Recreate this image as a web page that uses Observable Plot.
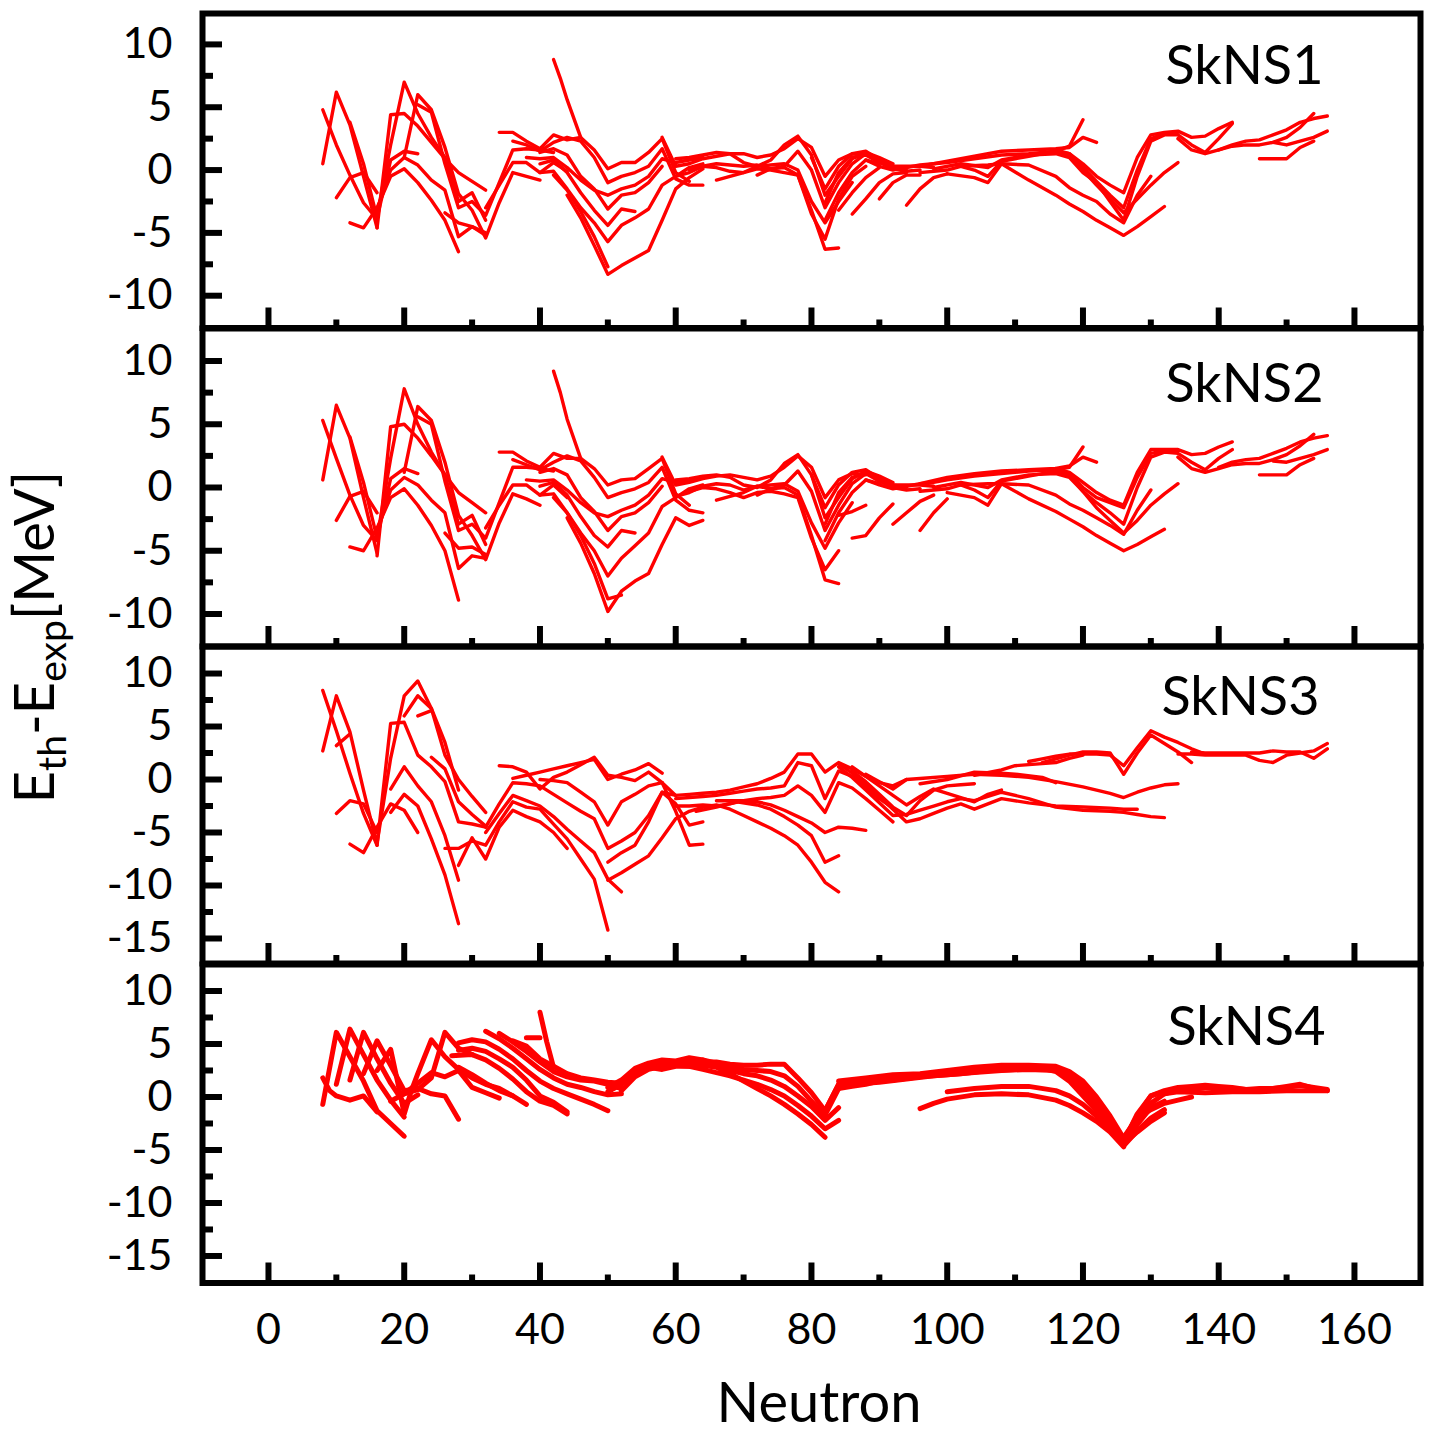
<!DOCTYPE html>
<html><head><meta charset="utf-8">
<script src="https://cdn.jsdelivr.net/npm/d3@7"></script>
<script src="https://cdn.jsdelivr.net/npm/@observablehq/plot@0.6"></script>
<style>
html,body{margin:0;padding:0;background:#fff;}
#chart{position:relative;width:1434px;height:1434px;background:#fff;font-family:Lato,sans-serif;overflow:hidden;color:#000}
#chart svg{position:absolute;left:0}
.ytitle{position:absolute;left:33px;top:637px;transform:translate(-50%,-50%) rotate(-90deg);font-size:56px;line-height:1;white-space:nowrap}
.ytitle span{font-size:0.7em;position:relative;top:0.3em}
.xtitle{position:absolute;left:819px;top:1373px;transform:translateX(-50%);font-size:56px;line-height:1;white-space:nowrap}
</style></head>
<body><div id="chart"></div>
<script>
// ---- tick values ----
const neutronTicks = [0,20,40,60,80,100,120,140,160];
const neutronMinor = [10,30,50,70,90,110,130,150];
const yMajorA = [-10,-5,0,5,10];
const yMinorA = [-7.5,-2.5,2.5,7.5];
const yMajorB = [-15,-10,-5,0,5,10];
const yMinorB = [-12.5,-7.5,-2.5,2.5,7.5];
const panelNames = ["SkNS1","SkNS2","SkNS3","SkNS4"];

// ---- isotopic chains: [N, Eth-Eexp] ----
const skns1 = [
 [[8,0.5],[10,6.2],[12,3.6],[14,-0.5],[16,-4.6]],
 [[8,4.8],[10,2.0],[12,-0.4],[14,-2.6],[16,-3.9]],
 [[10,-2.2],[12,-0.6],[14,-0.2],[16,-1.8]],
 [[12,-4.2],[14,-4.6],[16,-3.0],[18,-0.5],[20,0.1],[22,-1.0],[24,-2.4],[26,-4.0],[28,-6.5]],
 [[12,3.8],[14,0.5],[16,-3.8],[18,0.8],[20,1.5],[22,1.3]],
 [[16,-4.6],[18,4.4],[20,4.5],[22,3.5],[24,2.2],[26,0.9],[28,-0.2],[30,-0.9],[32,-1.6]],
 [[16,-3.6],[18,2.0],[20,7.0],[22,4.5],[24,2.6],[26,1.0],[28,-2.5],[30,-1.8],[32,-4.0]],
 [[20,1.0],[22,6.0],[24,4.8],[26,1.8],[28,-1.9],[30,-3.2],[32,-5.4],[34,-2.6],[36,-0.2],[38,-0.5],[40,-0.8]],
 [[16,-3.2],[18,0],[20,1.0],[22,0.4],[24,-0.8],[26,-1.6],[28,-5.3],[30,-4.5],[32,-5.0]],
 [[22,5.2],[24,4.6],[26,0.5],[28,-3.0],[30,-2.5],[32,-3.6],[34,-1.0],[36,1.6],[38,1.7],[40,1.6],[42,1.4]],
 [[26,-3.4],[28,-4.2],[30,-4.5],[32,-5.2]],
 [[32,-3.0],[34,-1.2],[36,0.6],[38,0.6],[40,-0.2],[42,0.6],[44,-0.1]],
 [[34,3.0],[36,3.0],[38,2.3],[40,1.7],[42,2.8],[44,2.4],[46,2.6],[48,1.6],[50,0.1],[52,0.6],[54,0.6],[56,1.4],[58,2.5],[60,-0.2],[62,-0.9]],
 [[36,2.3],[38,2.0],[40,1.5],[42,2.2],[44,2.6],[46,2.3],[48,1.0],[50,-1.0],[52,-0.5],[54,-0.2],[56,0.3],[58,1.7],[60,-0.7],[62,-1.2],[64,-1.2]],
 [[38,1.0],[40,0.9],[42,1.0],[44,0.2],[46,-0.8],[48,-1.6],[50,-2.0],[52,-1.5],[54,-1.2],[56,-0.5],[58,0.9],[60,0.6],[62,0.8],[64,1.0]],
 [[40,1.4],[42,1.7],[44,1.2],[46,-0.5],[48,-1.5],[50,-3.1],[52,-2.0],[54,-1.8],[56,-1.0],[58,0.3]],
 [[40,0.5],[42,0.8],[44,-0.2],[46,-1.8],[48,-3.2],[50,-4.4],[52,-3.1],[54,-3.3]],
 [[40,-0.2],[42,-0.1],[44,-1.5],[46,-3.0],[48,-4.2],[50,-5.7],[52,-4.4],[54,-3.8],[56,-3.1],[58,-1.2],[60,-0.5],[62,0.2],[64,0.5]],
 [[42,-0.4],[44,-1.6],[46,-3.3],[48,-5.3],[50,-7.7]],
 [[42,8.8],[43,7.3],[44,5.6],[46,2.6]],
 [[44,-2.0],[46,-3.8],[48,-6.0],[50,-8.3],[52,-7.6],[54,-7.0],[56,-6.4],[58,-4.0],[60,-1.5],[62,-0.6],[64,0.1]],
 [[58,2.6],[60,0.3],[62,0.5],[64,0.9],[66,1.1],[68,1.3],[70,1.3],[72,1.0],[74,1.2],[76,1.7],[78,2.5],[80,1.8],[82,-0.5],[84,0.8],[86,1.3],[88,1.2]],
 [[60,0.9],[62,1.0],[64,1.2],[66,1.4],[68,1.3],[70,0.6],[72,0.3],[74,0.8],[76,2.0],[78,2.7],[80,1.2],[82,-2.0],[84,-0.5],[86,0.9],[88,1.4],[90,1.0],[92,0.5]],
 [[60,-0.5],[62,-0.2],[64,0.3],[66,0.5],[68,0.4],[70,0.3],[72,0.4],[74,0.1],[76,0.3],[78,1.5],[80,0],[82,-3.0],[84,-1.0],[86,0.5],[88,1.3],[90,0.9],[92,0.3],[94,0.1]],
 [[62,0],[64,0.3],[66,0.2],[68,-0.1],[70,-0.2],[72,0.1],[74,0],[76,-0.2],[78,-0.4],[80,-3.5],[82,-5.5],[84,-2.3],[86,-0.5],[88,0.3]],
 [[66,-0.8],[68,-0.5],[70,-0.2],[72,0.3],[74,0.4],[76,0.5],[78,0],[80,-2.5],[82,-4.2],[84,-2.5],[86,-1.0]],
 [[72,-0.4],[74,0.1],[76,0.2],[78,-0.4],[80,-3.2],[82,-6.3],[84,-6.2]],
 [[80,1.0],[82,-1.5],[84,0.3],[86,1.3],[88,1.5],[90,0.8],[92,0.3],[94,0.3],[96,0.3],[98,0.2]],
 [[82,-2.6],[84,-0.2],[86,1.0],[88,1.2],[90,0.6],[92,0.1],[94,-0.1],[96,0]],
 [[82,-4.0],[84,-1.8],[86,-0.2],[88,0.8],[90,0.5]],
 [[84,-3.2],[86,-1.8],[88,-0.6],[90,0.2]],
 [[86,-3.5],[88,-2.3],[90,-1.0],[92,-0.3],[94,-0.2]],
 [[90,-2.3],[92,-1.0],[94,-0.4],[96,-0.4]],
 [[94,-2.8],[96,-1.5],[98,-0.6],[100,-0.3]],
 [[88,0.8],[90,0.3],[92,0],[94,0.2],[96,0.4],[98,0.5],[100,0.6],[104,0.9],[108,1.2],[112,1.3],[116,1.5],[118,1.9],[120,4.0]],
 [[96,0.3],[100,0.7],[104,1.1],[108,1.5],[112,1.6],[116,1.7],[118,1.8],[120,2.6],[122,2.2]],
 [[96,-0.2],[100,0],[102,0.3],[104,0],[106,-0.5],[108,0.7],[112,1.1],[116,1.5],[118,1.3],[120,0.2],[122,-0.9],[124,-2.0],[126,-3.0],[128,0],[130,2.5],[132,2.9],[134,3.0]],
 [[98,0.1],[102,0.5],[106,0.2],[108,0.8],[112,1.2],[116,1.3],[118,1.0],[120,-0.2],[122,-1.0],[124,-2.5],[126,-4.0],[128,-0.5],[130,2.3],[132,2.8],[134,2.8],[136,2.0],[138,1.4],[140,2.5],[142,3.7]],
 [[100,-0.3],[104,-0.6],[106,-1.0],[108,0.5],[112,0.4],[116,-0.5],[118,-1.4],[120,-2.0],[122,-2.5],[124,-3.5],[126,-4.2],[128,-2.0],[130,-0.5]],
 [[102,0.3],[106,0.4],[108,0.5],[112,-0.8],[116,-2.0],[118,-2.7],[120,-3.3],[122,-4.0],[124,-4.6],[126,-5.2],[128,-4.5],[130,-3.7],[132,-2.9]],
 [[116,1.6],[118,1.3],[120,0.5],[122,-0.5],[124,-1.2],[126,-1.8],[128,1.0],[130,2.8],[132,3.0],[134,3.1],[136,2.6],[138,2.7],[140,3.3],[142,3.8]],
 [[116,1.4],[118,1.2],[120,0],[122,-1.2],[124,-2.3],[126,-3.4],[128,-2.3],[130,-1.2],[132,-0.2],[134,0.6]],
 [[134,2.5],[136,1.6],[138,1.3],[140,1.6],[142,1.9],[144,2.0],[146,2.0],[148,2.2],[150,2.6],[152,3.4],[154,4.5]],
 [[140,1.6],[142,2.0],[144,2.3],[146,2.4],[148,2.8],[150,3.2],[152,3.8],[154,4.1],[156,4.3]],
 [[146,0.9],[148,0.9],[150,0.9],[152,1.8],[154,2.3]],
 [[148,2.2],[150,2.0],[152,2.3],[154,2.6],[156,3.1]]
];

const skns2 = [
 [[8,0.6],[10,6.5],[12,3.9],[14,-0.8],[16,-5.2]],
 [[8,5.3],[10,2.3],[12,-0.6],[14,-3.0],[16,-4.2]],
 [[10,-2.6],[12,-0.7],[14,-0.3],[16,-2.0]],
 [[12,-4.7],[14,-5.0],[16,-3.2],[18,-0.8],[20,-0.1],[22,-1.4],[24,-3.0],[26,-5.0],[28,-8.9]],
 [[12,4.0],[14,0.4],[16,-4.0],[18,0.7],[20,1.5],[22,1.1]],
 [[16,-5.4],[18,4.8],[20,5.0],[22,3.9],[24,2.5],[26,1.0],[28,-0.4],[30,-1.2],[32,-2.0]],
 [[16,-4.0],[18,2.3],[20,7.8],[22,5.0],[24,2.8],[26,1.0],[28,-2.9],[30,-2.2],[32,-4.5]],
 [[20,1.2],[22,6.4],[24,5.3],[26,2.0],[28,-2.2],[30,-3.8],[32,-5.7],[34,-2.8],[36,-0.5],[38,-0.9],[40,-1.4]],
 [[16,-3.5],[18,-0.2],[20,0.8],[22,0.2],[24,-1.0],[26,-2.0],[28,-6.4],[30,-5.4],[32,-5.6]],
 [[22,5.6],[24,5.0],[26,0.5],[28,-3.4],[30,-2.9],[32,-4.0],[34,-1.2],[36,1.6],[38,1.6],[40,1.5],[42,1.3]],
 [[26,-3.6],[28,-4.8],[30,-4.7],[32,-5.3]],
 [[32,-3.2],[34,-1.4],[36,0.2],[38,0.2],[40,-0.6],[42,0.2],[44,-0.8]],
 [[34,2.8],[36,2.8],[38,2.1],[40,1.6],[42,2.7],[44,2.3],[46,2.3],[48,1.5],[50,0.2],[52,0.6],[54,0.7],[56,1.5],[58,2.3],[60,-0.5],[62,-1.4]],
 [[36,2.2],[38,1.8],[40,1.4],[42,2.0],[44,2.5],[46,2.1],[48,0.8],[50,-0.8],[52,-0.4],[54,-0.1],[56,0.4],[58,1.6],[60,-1.0],[62,-1.8],[64,-2.0]],
 [[38,0.6],[40,0.5],[42,0.6],[44,-0.2],[46,-1.2],[48,-2.0],[50,-2.3],[52,-1.8],[54,-1.4],[56,-0.6],[58,0.7],[60,0.4],[62,0.6],[64,0.8]],
 [[40,1.2],[42,1.5],[44,1.0],[46,-0.8],[48,-1.9],[50,-3.4],[52,-2.3],[54,-2.0],[56,-1.2],[58,0.1]],
 [[40,0.1],[42,0.4],[44,-0.6],[46,-2.3],[48,-3.8],[50,-4.7],[52,-3.4],[54,-3.6]],
 [[40,-0.6],[42,-0.5],[44,-2.0],[46,-3.6],[48,-5.0],[50,-7.0],[52,-5.6],[54,-4.6],[56,-3.6],[58,-1.5],[60,-0.8],[62,-0.1],[64,0.2]],
 [[42,-0.8],[44,-2.0],[46,-3.8],[48,-6.0],[50,-8.8],[52,-8.5]],
 [[42,9.2],[43,7.5],[44,5.4],[46,2.3]],
 [[44,-2.4],[46,-4.4],[48,-6.8],[50,-9.8],[52,-8.2],[54,-7.4],[56,-6.8],[58,-4.5],[60,-2.4],[62,-3.0],[64,-2.6]],
 [[58,2.4],[60,0.2],[62,0.4],[64,0.7],[66,0.9],[68,1.0],[70,0.8],[72,0.6],[74,0.9],[76,1.6],[78,2.5],[80,1.6],[82,-0.8],[84,0.6],[86,1.1],[88,1.0]],
 [[60,0.6],[62,0.7],[64,0.9],[66,1.0],[68,0.8],[70,0.2],[72,0.0],[74,0.6],[76,1.9],[78,2.6],[80,1.0],[82,-2.4],[84,-0.8],[86,0.7],[88,1.3],[90,0.9],[92,0.4]],
 [[60,-0.7],[62,-0.4],[64,0.1],[66,0.3],[68,0.2],[70,-0.2],[72,0.1],[74,-0.1],[76,0.2],[78,1.3],[80,-0.3],[82,-3.4],[84,-1.4],[86,0.3],[88,1.1],[90,0.7],[92,0.2],[94,0]],
 [[62,-0.3],[64,0],[66,-0.1],[68,-0.4],[70,-0.8],[72,-0.4],[74,-0.3],[76,-0.5],[78,-0.8],[80,-4.0],[82,-6.5],[84,-5.0]],
 [[66,-1.0],[68,-0.7],[70,-0.4],[72,0.1],[74,0.2],[76,0.3],[78,-0.3],[80,-2.8],[82,-4.8],[84,-2.8],[86,-1.2]],
 [[72,-0.6],[74,-0.1],[76,0.0],[78,-0.6],[80,-3.8],[82,-7.3],[84,-7.6]],
 [[80,1.0],[82,-1.6],[84,0.2],[86,1.2],[88,1.4],[90,0.7],[92,0.2],[94,0.2],[96,0.2],[98,0.1]],
 [[82,-2.9],[84,-0.4],[86,0.8],[88,1.1],[90,0.5],[92,0],[94,-0.2],[96,-0.1]],
 [[82,-4.2],[84,-2.0],[86,-0.4],[88,0.6],[90,0.3]],
 [[84,-2.2],[86,-1.9],[88,-1.4]],
 [[86,-4.0],[88,-3.8],[90,-2.4],[92,-1.3]],
 [[92,-2.9],[94,-2.0],[96,-1.1],[98,-0.6]],
 [[96,-3.4],[98,-2.0],[100,-0.9]],
 [[88,0.6],[90,0.2],[92,-0.1],[94,0.1],[96,0.3],[98,0.4],[100,0.6],[104,0.9],[108,1.1],[112,1.3],[116,1.4],[118,1.6],[120,3.2]],
 [[96,0.3],[100,0.8],[104,1.1],[108,1.3],[112,1.4],[116,1.5],[118,1.7],[120,2.4],[122,2.0]],
 [[96,-0.3],[100,-0.1],[102,0.2],[104,-0.2],[106,-0.8],[108,0.5],[112,0.9],[116,1.3],[118,1.1],[120,0],[122,-0.8],[124,-1.2],[126,-1.6],[128,0.8],[130,2.7],[132,2.9],[134,2.9]],
 [[98,0],[102,0.4],[106,0.0],[108,0.6],[112,1.0],[116,1.1],[118,0.8],[120,-0.3],[122,-1.2],[124,-2.0],[126,-2.9],[128,0],[130,2.4],[132,2.8],[134,2.7],[136,2.0],[138,1.4],[140,2.3],[142,3.0]],
 [[100,-0.4],[104,-0.8],[106,-1.4],[108,0.3],[112,0.2],[116,-0.6],[118,-1.3],[120,-1.8],[122,-2.4],[124,-3.0],[126,-3.7],[128,-1.8],[130,-0.2]],
 [[102,0.2],[106,0.3],[108,0.3],[112,-0.9],[116,-1.9],[118,-2.5],[120,-3.1],[122,-3.8],[124,-4.4],[126,-5.0],[128,-4.5],[130,-3.9],[132,-3.3]],
 [[116,1.5],[118,1.2],[120,0.4],[122,-0.4],[124,-1.0],[126,-1.4],[128,1.2],[130,3.0],[132,3.0],[134,3.0],[136,2.6],[138,2.7],[140,3.2],[142,3.6]],
 [[116,1.2],[118,1.0],[120,-0.3],[122,-1.6],[124,-2.6],[126,-3.6],[128,-2.6],[130,-1.4],[132,-0.5],[134,0.3]],
 [[134,2.4],[136,1.5],[138,1.2],[140,1.5],[142,1.8],[144,1.9],[146,1.9],[148,2.2],[150,2.6],[152,3.3],[154,4.2]],
 [[140,1.6],[142,2.0],[144,2.2],[146,2.3],[148,2.7],[150,3.1],[152,3.6],[154,3.9],[156,4.1]],
 [[146,1.0],[148,1.0],[150,1.0],[152,1.8],[154,2.3]],
 [[148,2.1],[150,2.0],[152,2.3],[154,2.6],[156,3.0]]
];

const skns3 = [
 [[8,8.4],[10,4.6],[12,0.6],[14,-3.2],[16,-6.2]],
 [[8,2.7],[10,7.9],[12,4.5],[14,-1.0],[16,-6.2],[18,5.3],[20,5.4],[22,2.3],[24,1.2],[26,-0.2],[28,-4.0],[30,-4.2],[32,-4.5]],
 [[10,3.2],[12,4.3]],
 [[10,-3.2],[12,-2.0],[14,-2.3],[16,-5.0]],
 [[12,-6.1],[14,-6.9],[16,-4.5],[18,-2.3],[20,-2.9],[22,-5.0]],
 [[16,-6.0],[18,2.0],[20,7.9],[22,9.3],[24,6.7],[26,2.3],[28,0.0],[30,-1.6],[32,-3.1]],
 [[20,6.0],[22,7.9],[24,6.7],[26,3.5],[28,-1.0]],
 [[22,6.0],[24,6.5]],
 [[24,2.1],[26,1.0],[28,-2.1],[30,-3.3],[32,-4.4]],
 [[18,-0.9],[20,1.2],[22,-0.6],[24,-2.1],[26,-5.3],[28,-9.5]],
 [[18,-3.1],[20,-1.4],[22,-2.5],[24,-5.6],[26,-9.0],[28,-13.6]],
 [[28,-8.1],[30,-5.5],[32,-7.5],[34,-4.5],[36,-2.9],[38,-3.5],[40,-4.0],[42,-5.0],[44,-6.5]],
 [[26,-6.5],[28,-6.5],[30,-5.8],[32,-6.2],[34,-4.0],[36,-2.1],[38,-2.6],[40,-2.8],[42,-4.2],[44,-5.6],[46,-7.5],[48,-9.4],[50,-14.2]],
 [[32,-5.0],[34,-3.2],[36,-1.5],[38,-2.0],[40,-2.5],[42,-3.5],[44,-4.7],[46,-5.8],[48,-6.9],[50,-9.4],[52,-10.6]],
 [[32,-4.5],[34,-2.3],[36,-0.3],[38,-0.4],[40,-0.6],[42,-1.4],[44,-2.2],[46,-3.0],[48,-3.7],[50,-6.5],[52,-5.8],[54,-5.0],[56,-3.4],[58,-1.2],[60,-1.5]],
 [[34,1.3],[36,1.2],[38,0.7],[40,-0.9],[42,0.2],[44,0.7],[46,1.4],[48,2.1],[50,0.4],[52,0.2],[54,-0.1],[56,0.7],[58,-0.3],[60,-3.0],[62,-6.2],[64,-6.1]],
 [[36,0.1],[38,0.4],[40,0.7],[42,1.0],[44,1.3],[46,1.6],[48,1.9],[50,0.0],[52,0.5],[54,0.9],[56,1.5],[58,0.6]],
 [[40,0.0],[42,-0.1],[44,-0.3],[46,-1.2],[48,-2.1],[50,-4.3],[52,-2.1],[54,-1.4],[56,-0.6],[58,-0.3]],
 [[50,-7.8],[52,-6.9],[54,-6.2],[56,-4.0],[58,-1.2],[60,-2.3],[62,-4.3],[64,-4.0]],
 [[50,-9.5],[52,-8.8],[54,-8.0],[56,-7.2],[58,-5.5],[60,-3.7],[62,-3.0],[64,-2.6],[66,-2.4],[68,-2.8],[70,-3.4],[72,-4.0],[74,-4.6],[76,-5.3],[78,-6.2],[80,-7.8],[82,-9.7],[84,-10.6]],
 [[58,-0.3],[60,-1.5],[62,-1.4],[64,-1.3],[66,-1.2],[68,-1.0],[70,-0.7],[72,-0.4],[74,0.1],[76,0.7],[78,2.4],[80,2.4],[82,0.7],[84,1.6],[86,1.0],[88,0.3],[90,-0.3],[92,-0.6],[94,0.0]],
 [[60,-1.8],[62,-1.7],[64,-1.6],[66,-1.5],[68,-1.3],[70,-1.1],[72,-0.9],[74,-0.8],[76,-0.6],[78,1.6],[80,1.3],[82,-1.8],[84,0.8],[86,0.3],[88,-0.8],[90,-1.8],[92,-2.7]],
 [[60,-2.5],[62,-2.5],[64,-2.4],[66,-2.5],[68,-2.3],[70,-2.0],[72,-1.8],[74,-1.7],[76,-1.5],[78,-0.6],[80,-1.5],[82,-3.1],[84,-0.3],[86,-0.8],[88,-1.8],[90,-2.9],[92,-4.0]],
 [[63,-3.0],[66,-2.6],[69,-2.1],[72,-2.4],[74,-2.8],[76,-3.5],[78,-4.3],[80,-5.3],[82,-7.8],[84,-7.2]],
 [[66,-2.0],[70,-2.0],[72,-2.1],[74,-2.4],[76,-2.9],[78,-3.5],[80,-4.1],[82,-5.0],[84,-4.5],[86,-4.6],[88,-4.8]],
 [[84,1.5],[86,0.6],[88,-0.5],[90,-1.6],[92,-2.8],[94,-4.0],[96,-3.7],[98,-3.2],[100,-2.7],[102,-2.3],[104,-2.8],[106,-2.3],[108,-1.8],[112,-2.2],[116,-2.5],[120,-2.6],[124,-2.7],[126,-2.8],[128,-2.8]],
 [[84,1.2],[86,0.2],[88,-1.0],[90,-2.2],[92,-3.4],[94,-3.3],[96,-2.9],[98,-2.5],[100,-2.1],[102,-1.8],[104,-2.0],[106,-1.6],[108,-1.2],[112,-1.8],[116,-2.6],[120,-2.9],[124,-3.0],[126,-3.1],[128,-3.3],[130,-3.5],[132,-3.6]],
 [[86,1.2],[88,0.3],[90,-0.6],[92,-1.5],[94,-2.4],[96,-1.6],[98,-0.9],[100,-1.3],[102,-1.7],[104,-2.1],[106,-1.4],[108,-1.0]],
 [[86,0.8],[88,-0.2],[90,-1.4],[92,-2.6],[94,-3.4],[96,-2.0],[98,-1.0],[100,-0.6],[102,-0.5],[104,-0.4]],
 [[88,0.5],[90,-0.2],[92,-0.9],[94,0],[96,0.1],[100,0.3],[104,0.5],[108,0.4],[112,0.2],[116,-0.2],[120,-0.7],[124,-1.3],[126,-1.7],[128,-1.2],[130,-0.8],[132,-0.5],[134,-0.4]],
 [[96,-0.4],[100,0.0],[104,0.7],[108,0.6],[110,0.5],[114,0.2],[116,-0.3]],
 [[104,0.4],[108,0.9],[110,1.3],[114,1.5],[116,1.6],[118,2.0],[120,2.3]],
 [[112,1.7],[114,1.95],[116,2.2],[118,2.4],[120,2.4],[122,2.4],[124,2.3],[126,1.3],[128,3.0],[130,4.6],[132,4.0],[134,3.5],[136,2.9],[138,2.4]],
 [[114,1.6],[116,1.95],[118,2.3],[120,2.6],[122,2.6],[124,2.5],[126,0.5],[128,2.5],[130,4.2],[132,3.4],[134,2.6],[136,1.6]],
 [[134,2.4],[136,2.4],[138,2.3],[140,2.3],[142,2.3],[144,2.3],[146,1.8],[148,1.6],[150,2.3],[152,2.5],[154,2.7],[156,3.4]],
 [[136,2.6],[138,2.5],[140,2.5],[142,2.5],[144,2.5],[146,2.5],[148,2.7],[150,2.6],[152,2.6],[154,2.0],[156,2.9]]
];

const skns4 = [
 [[8,-0.7],[10,6.1],[12,3.8],[14,1.5],[16,-1.3],[18,-2.5],[20,-3.7]],
 [[8,1.8],[9,0.6],[10,0.1],[12,-0.3],[14,0.1],[16,-1.4]],
 [[10,1.2],[12,6.4],[14,4.0],[16,1.6],[18,-0.3],[20,-1.9]],
 [[12,1.6],[14,6.1],[16,3.6],[18,1.3],[20,-0.6],[22,0.2]],
 [[14,2.2],[16,5.3],[18,3.0],[20,0.6],[22,0.8],[24,0.3],[26,0.1],[28,-2.1]],
 [[16,2.5],[18,4.5],[19,1.5],[20,-1.6],[21,0.5],[22,2.2],[24,5.4],[26,3.8],[28,2.6],[30,1.8],[32,1.2],[34,0.8],[36,0.1]],
 [[18,-0.4],[20,0.3],[22,0.7],[24,1.8],[26,6.1],[28,4.6],[30,4.0]],
 [[20,0.3],[22,1.3],[24,2.3],[26,1.9],[28,2.5],[30,0.9],[32,0.4],[34,-0.1]],
 [[28,5.1],[30,5.4],[32,5.2],[34,4.5],[36,3.6],[38,2.5],[40,1.5],[42,0.8],[44,0.3],[46,-0.2],[48,-0.7],[50,-1.3]],
 [[28,4.4],[30,4.6],[32,4.3],[34,3.6],[36,2.8],[38,1.6],[40,0.1],[42,-0.5],[44,-1.4]],
 [[27,3.9],[30,4.0],[32,3.5],[34,2.7],[36,1.7],[38,0.5],[40,-0.4],[42,-0.8],[44,-1.6]],
 [[28,2.8],[30,2.1],[32,1.3],[34,0.6],[36,0.1],[38,-0.7]],
 [[32,6.2],[34,5.5],[36,4.6],[38,3.6],[40,2.6],[42,1.8],[44,1.2],[46,0.9],[48,0.5],[50,0.2],[52,0.3]],
 [[34,6.0],[36,5.2],[38,4.3],[40,3.3],[42,2.4],[44,1.9],[46,1.6],[48,1.5],[50,1.2],[52,0.8]],
 [[36,5.3],[38,4.8],[40,3.6],[42,2.9],[44,2.2],[46,1.8],[48,1.6],[50,1.4],[52,1.3],[54,2.0]],
 [[38,5.6],[40,5.6]],
 [[40,8.0],[41,5.2],[42,2.8]],
 [[50,0.5],[52,1.2],[54,2.4],[56,2.9],[58,3.2],[60,3.2],[62,3.3],[64,3.3],[66,3.3],[68,3.1],[70,3.0],[72,3.0],[74,3.1],[76,3.1],[78,1.8],[80,0.4],[82,-1.3],[84,1.2],[86,1.4],[88,1.5]],
 [[50,0.9],[52,1.6],[54,2.7],[56,3.2],[58,3.5],[60,3.4],[62,3.7],[64,3.5],[66,3.2],[68,2.9],[70,2.6],[72,2.5],[74,2.4],[76,2.0],[78,1.0],[80,-0.4],[82,-1.7],[84,0.8]],
 [[52,0.6],[54,1.9],[56,2.6],[58,2.9],[60,3.0],[62,2.9],[64,2.6],[66,2.3],[68,2.0],[70,1.6],[72,1.2],[74,0.7],[76,0.1],[78,-0.8],[80,-1.8],[82,-3.0],[84,-2.2]],
 [[54,2.3],[56,2.8],[58,2.6],[60,2.9],[62,2.9],[64,3.0],[66,2.8],[68,2.2],[70,1.5],[72,0.8],[74,0.1],[76,-0.7],[78,-1.6],[80,-2.6],[82,-3.8]],
 [[56,3.0],[58,3.1],[60,3.3],[62,3.2],[64,3.5],[66,2.9],[68,2.5],[70,2.2],[72,2.0],[74,1.6],[76,1.0],[78,0.1],[80,-0.9],[82,-2.2],[84,-1.0]],
 [[82,-1.3],[84,1.2],[86,1.4],[88,1.6],[90,1.7],[92,1.8],[94,2.0],[96,2.0],[100,2.3],[104,2.5],[108,2.9],[112,2.9],[116,2.8],[118,2.2],[120,1.2],[122,-0.3],[124,-2.0],[126,-4.0],[128,-1.8],[130,0.1],[132,0.5],[134,0.8]],
 [[84,1.5],[88,1.8],[92,2.1],[96,2.2],[100,2.5],[104,2.8],[108,3.0],[112,3.0],[116,2.9],[118,2.4],[120,1.5],[122,0.0],[124,-1.8],[126,-3.9]],
 [[84,0.8],[86,1.0],[88,1.2],[90,1.5],[92,1.6],[96,1.9],[100,2.1],[104,2.3],[108,2.5],[112,2.6],[116,2.5],[118,1.8],[120,0.7],[122,-0.8],[124,-2.5],[126,-4.5],[128,-2.6],[130,-1.0],[132,-0.4]],
 [[86,1.2],[90,1.4],[94,1.7],[98,2.0],[102,2.2],[106,2.5],[110,2.6],[114,2.7],[116,2.4],[118,1.5],[120,0.1],[122,-1.3],[124,-2.8],[126,-4.6],[128,-3.2],[130,-2.0],[132,-1.2]],
 [[96,-1.1],[98,-0.6],[100,-0.2],[104,0.2],[108,0.3],[112,0.2],[116,-0.3],[118,-0.8],[120,-1.5],[122,-2.3],[124,-3.3],[126,-4.7]],
 [[100,0.5],[104,0.8],[108,1.0],[112,1.0],[116,0.6],[118,0.1],[120,-0.7],[122,-1.8],[124,-3.0],[126,-4.4],[128,-3.3],[130,-2.3],[132,-1.5]],
 [[126,-4.5],[128,-2.5],[130,-0.6],[132,0.3],[134,0.7],[136,0.7],[138,0.9],[140,0.9],[142,0.8],[144,0.7],[146,0.8],[148,0.8],[150,0.9],[152,1.1],[154,0.9],[156,0.7]],
 [[126,-4.2],[128,-1.6],[130,0.1],[132,0.6],[134,0.9],[136,1.0],[138,1.1],[140,1.0],[142,0.9],[144,0.7],[146,0.7],[148,0.8],[150,1.0],[152,1.2],[154,0.8],[156,0.6]],
 [[126,-3.8],[128,-2.0],[130,-1.2],[132,-0.6],[134,-0.3],[136,0.0]],
 [[132,0.3],[134,0.5],[138,0.4],[142,0.5],[146,0.5],[150,0.6],[154,0.6],[156,0.6]]
];

// ---- layout ----
const panels = [
 {name: panelNames[0], chains: skns1, top: 13, bottom: 327.5, y: [-12.57, 12.46], major: yMajorA, minor: yMinorA, sw: 3.4, dx: -97, dy: 32},
 {name: panelNames[1], chains: skns2, top: 327.5, bottom: 645.5, y: [-12.57, 12.57], major: yMajorA, minor: yMinorA, sw: 3.4, dx: -97, dy: 35},
 {name: panelNames[2], chains: skns3, top: 646, bottom: 963, y: [-17.36, 12.55], major: yMajorB, minor: yMinorB, sw: 3.4, dx: -101, dy: 30},
 {name: panelNames[3], chains: skns4, top: 963.5, bottom: 1282, y: [-17.55, 12.5], major: yMajorB, minor: yMinorB, sw: 5, dx: -95, dy: 42}
];
const toRows = chains => chains.flatMap((c, i) => c.map(([n, e]) => ({id: i, n, e})));
const chart = document.getElementById("chart");
const W = 1434, ML = 202, MR = 14, PW = W - ML - MR;
const fmt = d => String(d);

panels.forEach((p, i) => {
  const last = i === panels.length - 1;
  const mt = 6, mb = last ? 110 : 6;
  const h = p.bottom - p.top;
  const marks = [
    Plot.line(toRows(p.chains), {x: "n", y: "e", z: "id", stroke: "#ff0000", strokeWidth: p.sw, strokeLinejoin: "round", strokeLinecap: "round"}),
    Plot.tickX(neutronTicks, {x: d => d, insetTop: h - 20, stroke: "black", strokeWidth: 6}),
    Plot.tickX(neutronMinor, {x: d => d, insetTop: h - 8, stroke: "black", strokeWidth: 6}),
    Plot.tickY(p.major, {y: d => d, insetRight: PW - 20, stroke: "black", strokeWidth: 6}),
    Plot.tickY(p.minor, {y: d => d, insetRight: PW - 11, stroke: "black", strokeWidth: 6}),
    Plot.axisY({ticks: p.major, tickSize: 0, tickPadding: 30, tickFormat: fmt, label: null}),
    Plot.text([p.name], {text: d => d, frameAnchor: "top-right", textAnchor: "end", lineAnchor: "top", dx: p.dx, dy: p.dy, fontSize: 54, fill: "black"}),
    Plot.frame({stroke: "black", strokeWidth: 6})
  ];
  if (last) marks.push(Plot.axisX({ticks: neutronTicks, tickSize: 0, tickPadding: 30, tickFormat: fmt, label: null}));
  const svg = Plot.plot({
    width: W, height: h + mt + mb,
    marginTop: mt, marginBottom: mb, marginLeft: ML, marginRight: MR,
    style: {background: "transparent", overflow: "visible", fontFamily: "Lato, sans-serif", fontSize: "43px", color: "black"},
    x: {domain: [-9.72, 169.73], axis: last ? undefined : null},
    y: {domain: p.y},
    marks
  });
  svg.style.top = (p.top - mt) + "px";
  chart.appendChild(svg);
});

const yt = document.createElement("div");
yt.className = "ytitle";
yt.innerHTML = "E<span>th</span>-E<span>exp</span>[MeV]";
chart.appendChild(yt);
const xt = document.createElement("div");
xt.className = "xtitle";
xt.textContent = "Neutron";
chart.appendChild(xt);
</script>
</body></html>
